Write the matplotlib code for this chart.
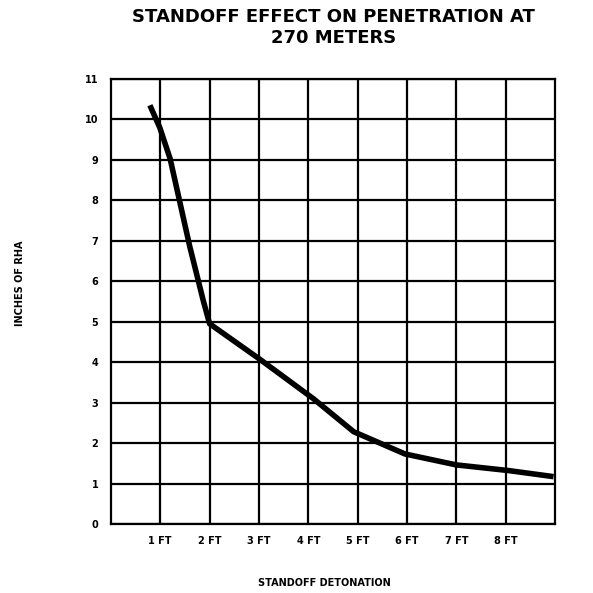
import numpy as np
import matplotlib.pyplot as plt

# standoff (ft) vs penetration (inches of RHA)
standoff = [0.79, 0.99, 1.2, 1.6, 1.87, 2.0, 3.02, 4.1, 4.92, 5.96, 7.0, 8.06, 8.97]
penetration = [10.35, 9.8, 9.03, 6.85, 5.53, 4.95, 4.07, 3.1, 2.28, 1.73, 1.46, 1.32, 1.17]

x_ticks = [1, 2, 3, 4, 5, 6, 7, 8]
x_labels = ['1 FT', '2 FT', '3 FT', '4 FT', '5 FT', '6 FT', '7 FT', '8 FT']
y_ticks = list(range(0, 12))

plt.rcParams['font.family'] = ['DejaVu Sans']

fig = plt.figure(figsize=(5.93, 5.93), dpi=100)
ax = fig.add_axes([0.187, 0.1164, 0.749, 0.7504])

ax.plot(standoff, penetration, color='black', lw=4, solid_capstyle='butt',
        solid_joinstyle='round', zorder=3)

ax.set_xlim(0, 9)
ax.set_ylim(0, 11)
ax.set_xticks(x_ticks)
ax.set_xticklabels(x_labels, fontsize=7, fontweight='bold')
ax.set_yticks(y_ticks)
ax.set_yticklabels([str(v) for v in y_ticks], fontsize=7, fontweight='bold')
ax.tick_params(axis='x', length=0, pad=9)
ax.tick_params(axis='y', length=0, pad=9)
ax.grid(True, color='black', lw=1.6)
for s in ax.spines.values():
    s.set_linewidth(1.6)

ax.set_xlabel('STANDOFF DETONATION', fontsize=7, fontweight='bold')
ax.xaxis.set_label_coords(0.48, -0.121)
ax.set_ylabel('INCHES OF RHA', fontsize=7, fontweight='bold')
ax.yaxis.set_label_coords(-0.194, 0.54)
fig.suptitle('STANDOFF EFFECT ON PENETRATION AT\n270 METERS', x=0.563, y=0.987,
             fontsize=13, fontweight='bold', linespacing=1.25)

fig.savefig('out.png', dpi=100)
